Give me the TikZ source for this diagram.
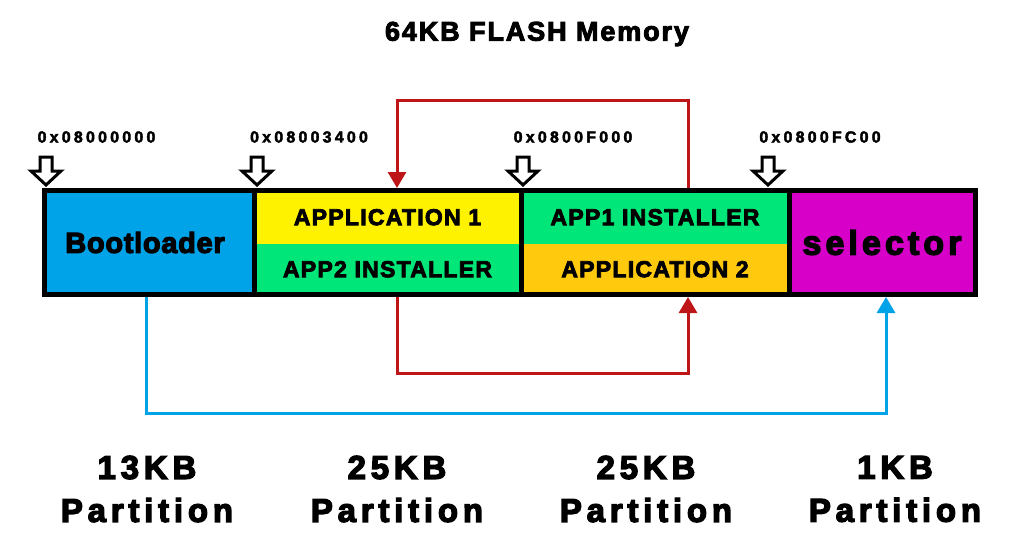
\documentclass[tikz,border=0pt]{standalone}
\usepackage{fontspec}
\usetikzlibrary{arrows.meta}
\definecolor{bootblue}{RGB}{0,162,232}
\definecolor{appyellow}{RGB}{255,242,0}
\definecolor{instgreen}{RGB}{0,230,120}
\definecolor{appgold}{RGB}{255,201,14}
\definecolor{selmagenta}{RGB}{214,0,200}
\definecolor{flowred}{RGB}{190,22,24}
\newfontfamily\titlefont{Liberation Sans Bold}[FakeBold=3.5,LetterSpace=7]
\newfontfamily\addrfont{Liberation Sans Bold}[FakeBold=2.5,LetterSpace=20]
\newfontfamily\bootfont{Liberation Sans Bold}[FakeBold=4,LetterSpace=2.4]
\newfontfamily\capsfont{Liberation Sans Bold}[FakeBold=3.5,LetterSpace=5.5]
\newfontfamily\selfont{Liberation Sans Bold}[FakeBold=4,LetterSpace=12]
\newfontfamily\sizefont{Liberation Sans Bold}[FakeBold=4,LetterSpace=14.5]
\begin{document}
\begin{tikzpicture}[x=1pt,y=-1pt,
  frame/.style={draw,line width=5pt,minimum height=104pt,inner sep=0pt},
  half/.style={inner sep=0pt,font=\capsfont\fontsize{23}{26}\selectfont},
  addr/.style={font=\addrfont\fontsize{16}{18}\selectfont,inner sep=0pt},
  size/.style={font=\sizefont\fontsize{33}{43}\selectfont,align=center,inner sep=0pt},
  flow/.style={line width=3pt,-{Triangle[length=16pt,width=18pt]}},
  hollowarrow/.pic={\draw[line width=3pt,fill=white,line join=miter]
    (0,0) -- (-15,-14) -- (-6,-14) -- (-6,-28) -- (6,-28) -- (6,-14) -- (15,-14) -- cycle;}]
\useasboundingbox (0,0) rectangle (1023,557);
\node[font=\titlefont\fontsize{27}{30}\selectfont,inner sep=0pt] (title) at (537,34) {64KB FLASH Memory};
% partition halves
\node[half,fill=appyellow,minimum width=267pt,minimum height=53.5pt] (app1) at (387.5,217.25) {APPLICATION 1};
\node[half,fill=instgreen,minimum width=267pt,minimum height=50.5pt] (inst2) at (387.5,269.25) {APP2 INSTALLER};
\node[half,fill=instgreen,minimum width=268pt,minimum height=53.5pt] (inst1) at (655,217.25) {APP1 INSTALLER};
\node[half,fill=appgold,minimum width=268pt,minimum height=50.5pt] (app2) at (655,269.25) {APPLICATION 2};
% partitions
\node[frame,fill=bootblue,minimum width=210pt] (boot) at (149,242.5) {};
\node[font=\bootfont\fontsize{29}{32}\selectfont,inner sep=0pt] (bootname) at (145,242.5) {Bootloader};
\node[frame,minimum width=267pt] (part2) at (387.5,242.5) {};
\node[frame,minimum width=268pt] (part3) at (655,242.5) {};
\node[frame,fill=selmagenta,minimum width=186pt,font=\selfont\fontsize{34}{36}\selectfont] (sel) at (882,242.5) {selector};
% addresses
\node[addr] (addr1) at (96.5,137) {0x08000000};
\node[addr] (addr2) at (309,137) {0x08003400};
\node[addr] (addr3) at (573,137) {0x0800F000};
\node[addr] (addr4) at (820,137) {0x0800FC00};
\pic at (46,185) {hollowarrow};
\pic at (257,185) {hollowarrow};
\pic at (523,185) {hollowarrow};
\pic at (768,185) {hollowarrow};
% flows
\draw[flow,flowred] ([xshift=33pt]part3.north) -- ++(0,-88) -| ([xshift=9.5pt]part2.north);
\draw[flow,flowred] ([xshift=9.5pt]part2.south) -- ++(0,76) -| ([xshift=33pt]part3.south);
\draw[flow,bootblue] ([xshift=-3pt]boot.south) -- ++(0,116) -| ([xshift=4pt]sel.south);
% sizes
\node[size] (size1) at (147,489) {13KB\\Partition};
\node[size] (size2) at (397,489) {25KB\\Partition};
\node[size] (size3) at (646,489) {25KB\\Partition};
\node[size] (size4) at (895,489) {1KB\\Partition};
\end{tikzpicture}
\end{document}
